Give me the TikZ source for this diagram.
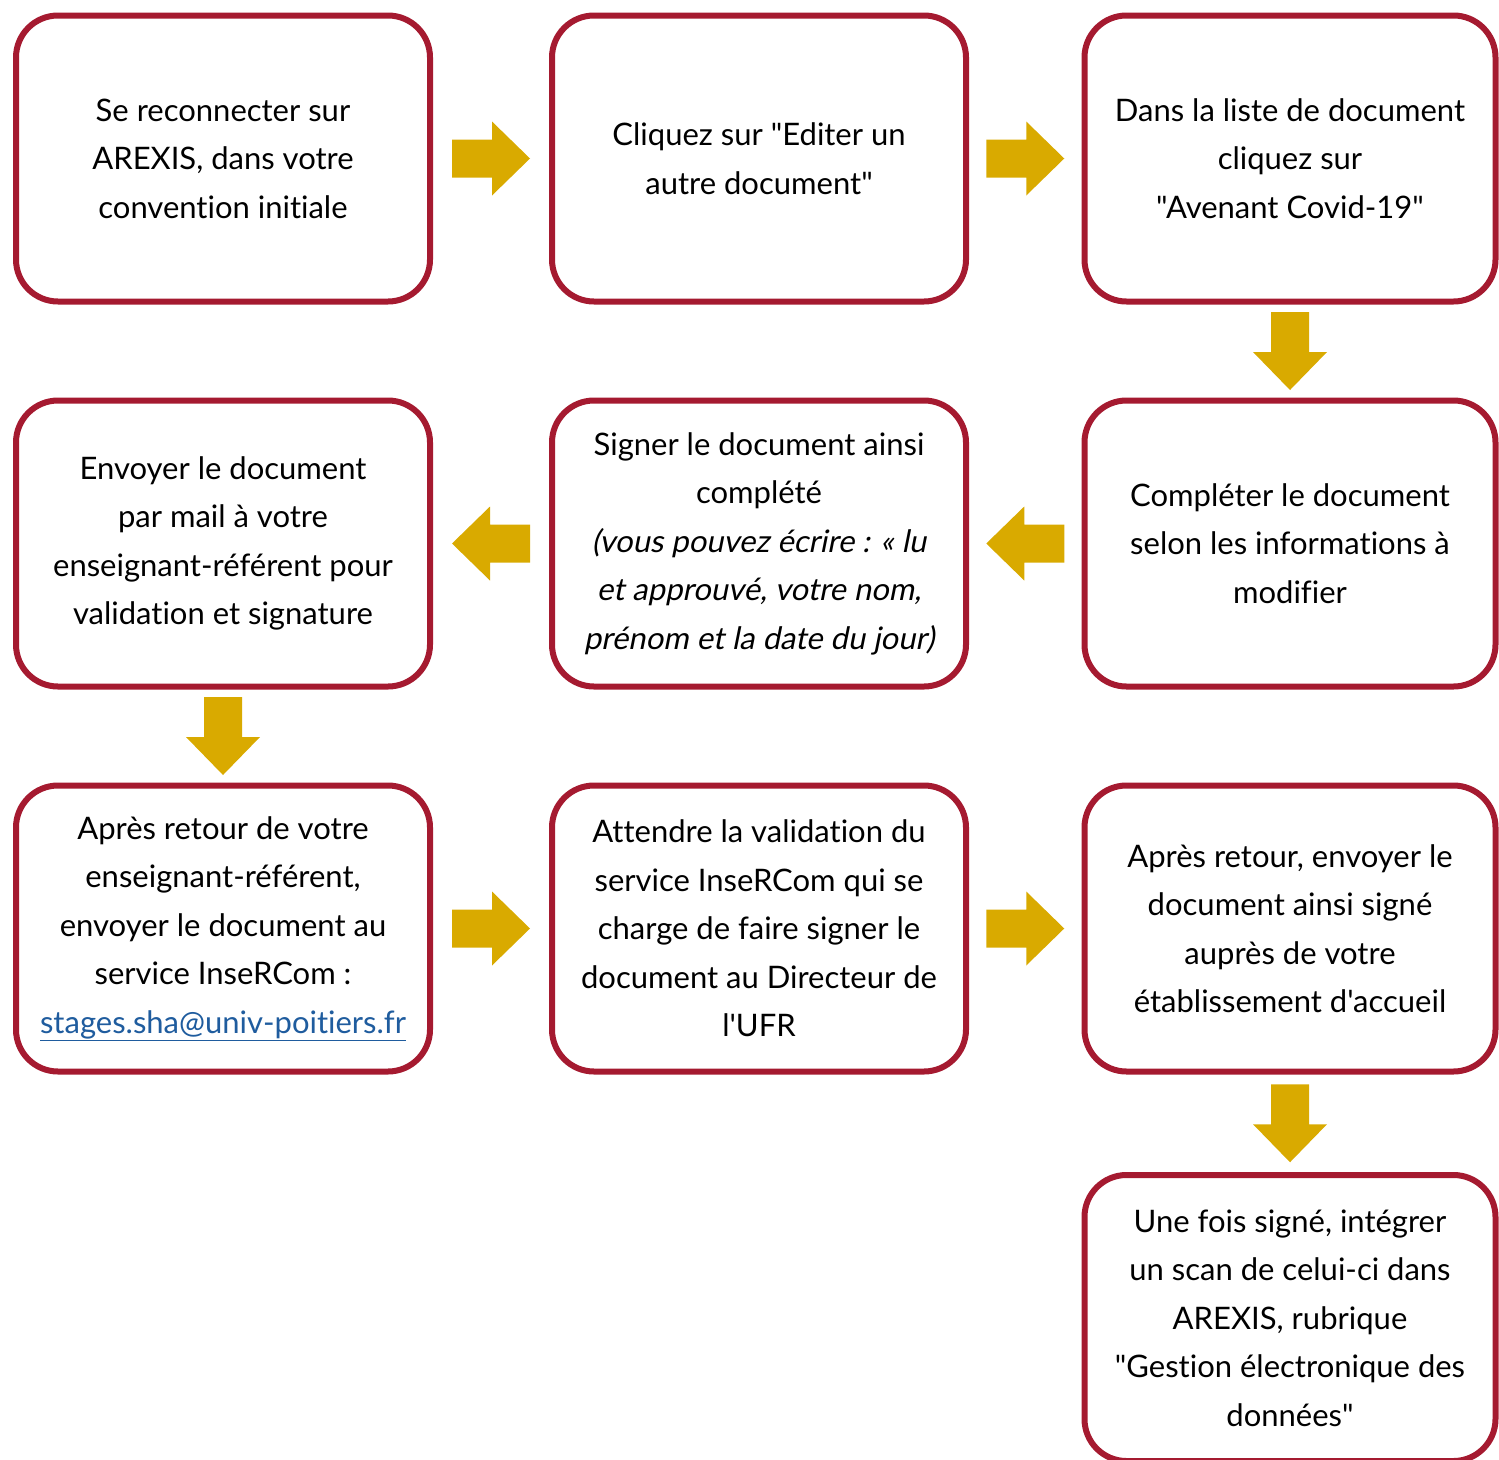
\documentclass[tikz,border=0pt]{standalone}
\usepackage{fontspec}
\newfontfamily\boxfont{Lato}[Ligatures=NoCommon,ItalicFont=Lato,ItalicFeatures={FakeSlant=0.2}]
\usetikzlibrary{calc}
\definecolor{framered}{HTML}{A51A30}
\definecolor{arrowgold}{HTML}{D9AA00}
\definecolor{linkblue}{HTML}{1F5C9E}

\begin{document}
\begin{tikzpicture}[
    x=1pt,y=-1pt,
    stepbox/.style={
        draw=framered,
        line width=6pt,
        rectangle,
        rounded corners=42pt,
        minimum width=414pt,
        minimum height=286pt,
        align=center,
        inner sep=0pt,
        font=\boxfont\fontsize{31}{48.5}\selectfont,
    },
    pics/blockarr/.style={
        code={
            \fill[arrowgold] (-39,-19) -- (1,-19) -- (1,-37) -- (39,0)
                -- (1,37) -- (1,19) -- (-39,19) -- cycle;
        }
    },
]
    \useasboundingbox (0,0) rectangle (1499,1459);

    % row 1
    \node[stepbox] (reconnect) at (223,158.5) {Se reconnecter sur\\AREXIS, dans votre\\convention initiale};
    \node[stepbox] (editer) at (759,158.5) {Cliquez sur "Editer un\\autre document"};
    \node[stepbox,minimum width=411pt] (liste) at (1290,158.5) {Dans la liste de document\\cliquez sur\\"Avenant Covid-19"};

    % row 2
    \node[stepbox,minimum width=411pt] (completer) at (1290,543.5) {Compléter le document\\selon les informations à\\modifier};
    \node[stepbox] (signer) at (759,543.5) {Signer le document ainsi\\complété\\\itshape (vous pouvez écrire : « lu\\\itshape et approuvé, votre nom,\\\itshape prénom et la date du jour)};
    \node[stepbox] (envoyer) at (223,543.5) {Envoyer le document\\par mail à votre\\enseignant-référent pour\\validation et signature};

    % row 3
    \node[stepbox] (retour) at (223,928.5) {Après retour de votre\\enseignant-référent,\\envoyer le document au\\service InseRCom :\\\textcolor{linkblue}{\underline{stages.sha@univ-poitiers.fr}}};
    \node[stepbox] (attendre) at (759,928.5) {Attendre la validation du\\service InseRCom qui se\\charge de faire signer le\\document au Directeur de\\l'UFR};
    \node[stepbox,minimum width=411pt] (accueil) at (1290,928.5) {Après retour, envoyer le\\document ainsi signé\\auprès de votre\\établissement d'accueil};

    % row 4
    \node[stepbox,minimum width=411pt] (scan) at (1290,1318) {Une fois signé, intégrer\\un scan de celui-ci dans\\AREXIS, rubrique\\"Gestion électronique des\\données"};

    % arrows
    \path ($(reconnect.east)!.5!(editer.west)$) pic {blockarr};
    \path ($(editer.east)!.5!(liste.west)$) pic {blockarr};
    \path ($(liste.south)!.5!(completer.north)$) pic[rotate=-90] {blockarr};
    \path ($(completer.west)!.5!(signer.east)$) pic[rotate=180] {blockarr};
    \path ($(signer.west)!.5!(envoyer.east)$) pic[rotate=180] {blockarr};
    \path ($(envoyer.south)!.5!(retour.north)$) pic[rotate=-90] {blockarr};
    \path ($(retour.east)!.5!(attendre.west)$) pic {blockarr};
    \path ($(attendre.east)!.5!(accueil.west)$) pic {blockarr};
    \path ($(accueil.south)!.5!(scan.north)$) pic[rotate=-90] {blockarr};
\end{tikzpicture}
\end{document}
